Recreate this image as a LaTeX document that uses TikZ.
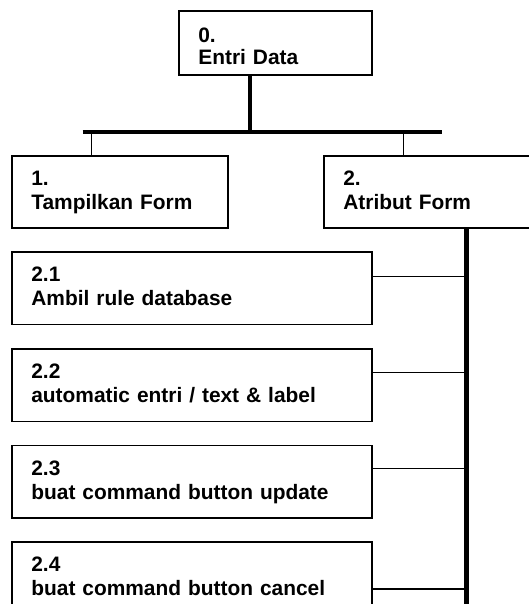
\documentclass[tikz,border=0pt]{standalone}
\usepackage{fontspec}
\setmainfont{Liberation Sans}
\usetikzlibrary{calc}
\newcommand{\boxfont}{\fontsize{20.9}{24}\selectfont\bfseries}
\tikzset{
  box/.style={draw, line width=1.7pt, anchor=north west, align=left, inner xsep=19.5pt, inner ysep=0pt, text height=15pt, text depth=28pt, font=\boxfont},
  link/.style={line width=1.3pt},
  trunk/.style={line width=4.5pt}
}
\begin{document}
\begin{tikzpicture}[x=1pt, y=-1pt]
    \useasboundingbox (0,0) rectangle (529,604);
    \clip (0,0) rectangle (529,604);
    \node[box, text width=154pt, minimum height=64pt, text depth=15.8pt] (e0) at (178,10) {0.\\[-2.4pt]Entri Data};
    \node[box, text width=177pt, minimum height=72pt] (e1) at (11,155) {1.\\Tampilkan Form};
    \node[box, text width=198pt, minimum height=72pt] (e2) at (323,155) {2.\\Atribut Form};
    \node[box, text width=321pt, minimum height=72.5pt] (e21) at (11,251) {2.1\\Ambil rule database};
    \node[box, text width=321pt, minimum height=72.5pt] (e22) at (11,348) {2.2\\automatic entri / text \& label};
    \node[box, text width=321pt, minimum height=72.5pt] (e23) at (11,444.5) {2.3\\buat command button update};
    \node[box, text width=321pt, minimum height=72.5pt] (e24) at (11,541) {2.4\\buat command button cancel};

    \coordinate (stem) at (250,131.8);
    \coordinate (barL) at (82.7,131.8);
    \coordinate (barR) at (442,131.8);
    \coordinate (j1) at (91.8,131.8);
    \coordinate (j2) at (403.8,131.8);
    \coordinate (spine) at (466.6,610);

    \draw[trunk] (stem |- e0.south) -- (stem);
    \draw[trunk] (barL) -- (barR);
    \draw[link] (j1) -- (j1 |- e1.north);
    \draw[link] (j2) -- (j2 |- e2.north);
    \draw[trunk] (spine |- e2.south) -- (spine);

    \foreach \n/\dy in {21/25.3, 22/24.8, 23/24, 24/48} {
      \path ($(e\n.north east)+(0,\dy)$) coordinate (c\n);
      \draw[link] (c\n) -- (c\n -| spine);
    }
  \end{tikzpicture}
\end{document}
